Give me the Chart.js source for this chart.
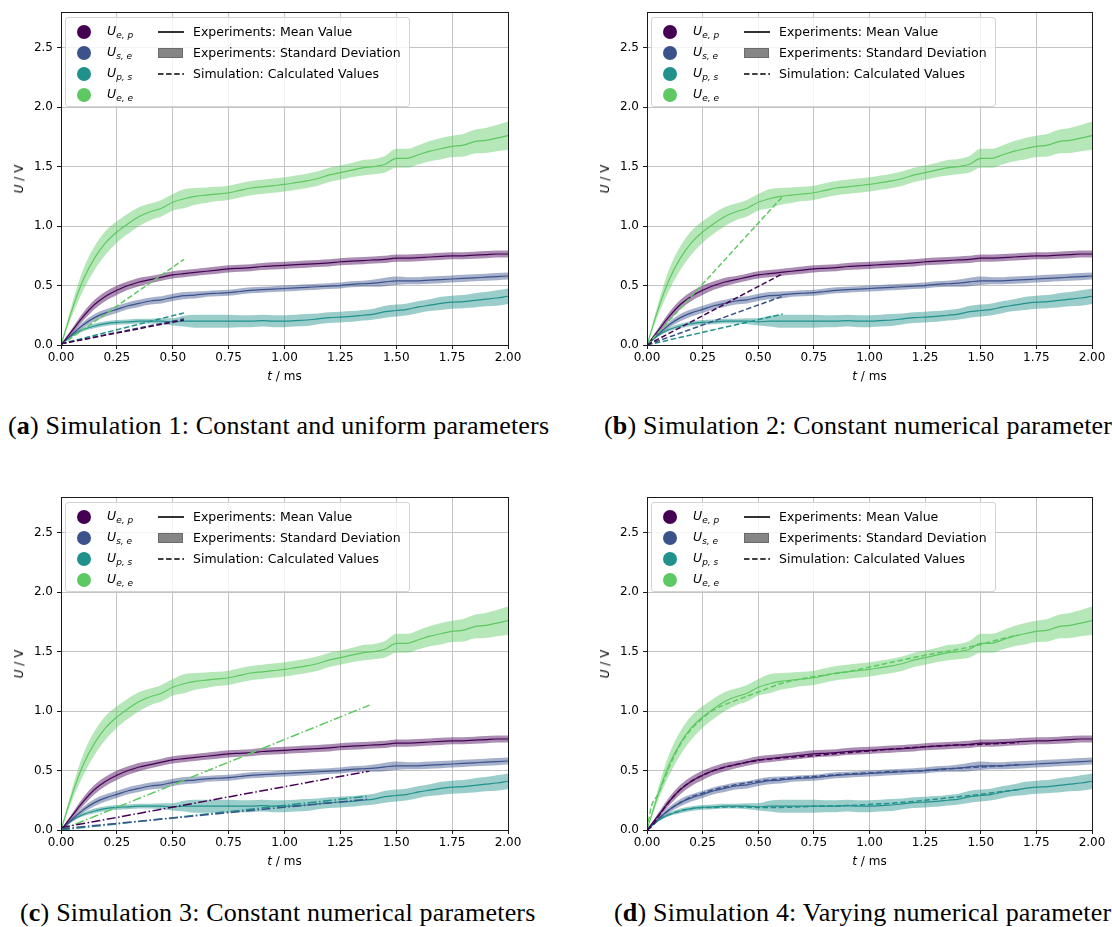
<!DOCTYPE html>
<html lang="en">
<head>
<meta charset="UTF-8">
<title>Simulation vs. Experiments</title>
<script src="https://cdn.jsdelivr.net/npm/chart.js"></script>
<style>
  body { margin: 0; background: #fff; width: 1112px; height: 927px; overflow: hidden; position: relative; font-family: "DejaVu Sans", sans-serif; color: #000; }
  .panel { position: absolute; }
  .panel canvas { position: absolute; left: 0; top: 0; }
  .legend { position: absolute; width: 345px; height: 90px; box-sizing: border-box; background: rgba(255,255,255,0.8); border: 1px solid #d4d4d4; border-radius: 3px; font-size: 12.5px; }
  .legend .dot { position: absolute; width: 14px; height: 14px; border-radius: 50%; }
  .legend .sym { position: absolute; font-style: italic; font-size: 12.5px; line-height: 14px; }
  .legend .sym sub { font-size: 9px; vertical-align: -3px; }
  .legend .txt { position: absolute; line-height: 14px; white-space: nowrap; }
  .legend svg { position: absolute; }
  .ytitle { position: absolute; font-size: 12px; white-space: nowrap; transform: translate(-50%, -50%) rotate(-90deg); }
  .xtitle { position: absolute; font-size: 12px; white-space: nowrap; transform: translate(-50%, -50%); }
  .caption { position: absolute; font-family: "Liberation Serif", serif; font-size: 26px; letter-spacing: 0.2px; white-space: nowrap; line-height: 1; }
</style>
</head>
<body>

<script>
// time axis of the experiments (ms)
const t = [0, 0.05, 0.1, 0.15, 0.2, 0.25, 0.3, 0.35, 0.4, 0.45, 0.5, 0.55, 0.6, 0.65, 0.7, 0.75, 0.8, 0.85, 0.9, 0.95,
           1.0, 1.05, 1.1, 1.15, 1.2, 1.25, 1.3, 1.35, 1.4, 1.45, 1.5, 1.55, 1.6, 1.65, 1.7, 1.75, 1.8, 1.85, 1.9, 1.95, 2.0];

// experiments: mean values (V)
const meanEp = [0, 0.12, 0.24, 0.34, 0.41, 0.46, 0.50, 0.53, 0.55, 0.57, 0.59, 0.60, 0.61, 0.62, 0.63, 0.64, 0.645, 0.65, 0.66, 0.665,
                0.67, 0.675, 0.68, 0.685, 0.69, 0.70, 0.705, 0.71, 0.715, 0.72, 0.73, 0.73, 0.735, 0.74, 0.745, 0.75, 0.75, 0.755, 0.76, 0.765, 0.765];
const meanSe = [0, 0.09, 0.17, 0.23, 0.27, 0.30, 0.33, 0.35, 0.37, 0.38, 0.40, 0.415, 0.42, 0.43, 0.435, 0.44, 0.45, 0.46, 0.465, 0.47,
                0.475, 0.48, 0.485, 0.49, 0.495, 0.50, 0.51, 0.515, 0.52, 0.53, 0.54, 0.54, 0.54, 0.545, 0.55, 0.555, 0.56, 0.565, 0.57, 0.575, 0.58];
const meanPs = [0, 0.08, 0.13, 0.16, 0.18, 0.19, 0.195, 0.2, 0.2, 0.2, 0.195, 0.2, 0.2, 0.2, 0.2, 0.2, 0.2, 0.2, 0.205, 0.2,
                0.2, 0.205, 0.21, 0.22, 0.23, 0.235, 0.24, 0.25, 0.26, 0.28, 0.29, 0.30, 0.32, 0.335, 0.35, 0.36, 0.365, 0.375, 0.385, 0.395, 0.41];
const meanEe = [0, 0.30, 0.55, 0.73, 0.86, 0.95, 1.02, 1.08, 1.12, 1.15, 1.20, 1.23, 1.25, 1.26, 1.27, 1.28, 1.30, 1.32, 1.33, 1.34,
                1.35, 1.365, 1.38, 1.40, 1.43, 1.45, 1.47, 1.49, 1.50, 1.52, 1.57, 1.57, 1.60, 1.63, 1.65, 1.67, 1.68, 1.71, 1.72, 1.74, 1.76];

// experiments: standard deviations (V)
const stdEp = [0, 0.02, 0.035, 0.04, 0.04, 0.04, 0.035, 0.035, 0.03, 0.03, 0.03, 0.03, 0.03, 0.03, 0.03, 0.03, 0.03, 0.03, 0.03, 0.03,
               0.03, 0.03, 0.03, 0.03, 0.03, 0.03, 0.03, 0.03, 0.03, 0.03, 0.03, 0.03, 0.03, 0.03, 0.03, 0.03, 0.03, 0.03, 0.03, 0.03, 0.03];
const stdSe = [0, 0.015, 0.025, 0.03, 0.03, 0.03, 0.03, 0.03, 0.03, 0.03, 0.03, 0.03, 0.03, 0.025, 0.025, 0.025, 0.025, 0.025, 0.025, 0.025,
               0.025, 0.025, 0.025, 0.025, 0.025, 0.025, 0.025, 0.025, 0.03, 0.035, 0.035, 0.03, 0.03, 0.03, 0.03, 0.03, 0.03, 0.03, 0.03, 0.03, 0.03];
const stdPs = [0, 0.01, 0.015, 0.02, 0.02, 0.02, 0.02, 0.02, 0.02, 0.025, 0.03, 0.045, 0.055, 0.055, 0.055, 0.055, 0.05, 0.05, 0.05, 0.05,
               0.05, 0.05, 0.05, 0.045, 0.045, 0.045, 0.045, 0.045, 0.045, 0.05, 0.05, 0.05, 0.05, 0.05, 0.055, 0.055, 0.055, 0.06, 0.06, 0.065, 0.065];
const stdEe = [0, 0.05, 0.09, 0.1, 0.1, 0.09, 0.085, 0.08, 0.07, 0.07, 0.07, 0.08, 0.07, 0.065, 0.06, 0.06, 0.06, 0.06, 0.06, 0.06,
               0.06, 0.06, 0.06, 0.06, 0.06, 0.06, 0.06, 0.065, 0.065, 0.07, 0.08, 0.08, 0.08, 0.085, 0.09, 0.09, 0.095, 0.1, 0.105, 0.11, 0.12];

// simulation 1 (dashed)
const sim1Time = [0, 0.55];
const sim1Ep = [0.01, 0.21];
const sim1Se = [0.01, 0.22];
const sim1Ps = [0.01, 0.27];
const sim1Ee = [0.0, 0.72];

// simulation 2 (dashed)
const sim2Time = [0, 0.61];
const sim2Ep = [0.0, 0.60];
const sim2Se = [0.0, 0.41];
const sim2Ps = [0.0, 0.26];
const sim2Ee = [0.0, 1.25];

// simulation 3 (dash-dot)
const sim3Time = [0, 1.38];
const sim3Ep = [0.02, 0.495];
const sim3Se = [0.01, 0.26];
const sim3Ps = [0.0, 0.285];
const sim3Ee = [0.0, 1.05];

// simulation 4 (dashed)
const sim4Time = [0, 0.02, 0.05, 0.1, 0.15, 0.2, 0.25, 0.3, 0.4, 0.5, 0.6, 0.75, 0.9, 1.0, 1.1, 1.25, 1.4, 1.5, 1.6, 1.67];
const sim4Ep = [0, 0.03, 0.11, 0.24, 0.34, 0.41, 0.46, 0.50, 0.55, 0.585, 0.605, 0.625, 0.65, 0.665, 0.68, 0.70, 0.715, 0.72, 0.73, 0.735];
const sim4Se = [0, 0.03, 0.09, 0.17, 0.23, 0.28, 0.31, 0.34, 0.38, 0.41, 0.43, 0.45, 0.47, 0.48, 0.49, 0.50, 0.52, 0.53, 0.54, 0.55];
const sim4Ps = [0, 0.03, 0.08, 0.13, 0.16, 0.18, 0.19, 0.19, 0.195, 0.19, 0.19, 0.2, 0.205, 0.215, 0.225, 0.25, 0.28, 0.30, 0.325, 0.34];
const sim4Ee = [0, 0.2, 0.3, 0.53, 0.72, 0.85, 0.94, 1.01, 1.09, 1.16, 1.23, 1.29, 1.33, 1.37, 1.41, 1.47, 1.52, 1.56, 1.61, 1.64];

const xTicks = [0, 0.25, 0.5, 0.75, 1.0, 1.25, 1.5, 1.75, 2.0];
const yTicks = [0, 0.5, 1.0, 1.5, 2.0, 2.5];

const seriesNames = ['Ep', 'Se', 'Ps', 'Ee'];
const seriesColors = { Ep: [68, 1, 84], Se: [59, 82, 139], Ps: [33, 145, 140], Ee: [94, 201, 98] };
const symbols = { Ep: 'e, p', Se: 's, e', Ps: 'p, s', Ee: 'e, e' };
const means = { Ep: meanEp, Se: meanSe, Ps: meanPs, Ee: meanEe };
const stds = { Ep: stdEp, Se: stdSe, Ps: stdPs, Ee: stdEe };

const panels = [
  { letter: 'a', title: 'Simulation 1: Constant and uniform parameters', left: 0, top: 0, padRight: 16, capX: 8, capY: 413,
    dash: [5.5, 2.6], simTime: sim1Time, sims: { Ep: sim1Ep, Se: sim1Se, Ps: sim1Ps, Ee: sim1Ee } },
  { letter: 'b', title: 'Simulation 2: Constant numerical parameters', left: 586, top: 0, padRight: 18, capX: 604, capY: 413,
    dash: [5.5, 2.6], simTime: sim2Time, sims: { Ep: sim2Ep, Se: sim2Se, Ps: sim2Ps, Ee: sim2Ee } },
  { letter: 'c', title: 'Simulation 3: Constant numerical parameters', left: 0, top: 485, padRight: 16, capX: 20, capY: 900,
    dash: [9, 2.5, 1.5, 2.5], simTime: sim3Time, sims: { Ep: sim3Ep, Se: sim3Se, Ps: sim3Ps, Ee: sim3Ee } },
  { letter: 'd', title: 'Simulation 4: Varying numerical parameters', left: 586, top: 485, padRight: 18, capX: 614, capY: 900,
    dash: [5.5, 2.6], simTime: sim4Time, sims: { Ep: sim4Ep, Se: sim4Se, Ps: sim4Ps, Ee: sim4Ee } }
];

const AXIS_W = 61, PAD_TOP = 12, CANVAS_H = 390, X_AXIS_H = 45;

function rgba(c, a) { return `rgba(${c[0]},${c[1]},${c[2]},${a})`; }
function pts(xs, ys) { return xs.map((x, i) => ({ x: x, y: ys[i] })); }

// matplotlib-like box around the plot area
const spines = {
  id: 'spines',
  afterDatasetsDraw(chart) {
    const { ctx, chartArea: a } = chart;
    ctx.save();
    ctx.strokeStyle = '#1a1a1a';
    ctx.lineWidth = 1;
    ctx.strokeRect(Math.round(a.left) + 0.5, Math.round(a.top) + 0.5, Math.round(a.right - a.left), Math.round(a.bottom - a.top));
    ctx.restore();
  }
};

function legendHtml() {
  let h = '';
  seriesNames.forEach((s, i) => {
    const y = 14 + i * 21;
    h += `<div class="dot" style="left:11px;top:${y - 7}px;background:${rgba(seriesColors[s], 1)}"></div>`;
    h += `<div class="sym" style="left:41px;top:${y - 8}px">U<sub>${symbols[s]}</sub></div>`;
  });
  h += `<svg style="left:92px;top:12px" width="26" height="4"><line x1="0" y1="2" x2="26" y2="2" stroke="#000" stroke-width="1.6"/></svg>`;
  h += `<div style="position:absolute;left:92px;top:30px;width:25px;height:10px;box-sizing:border-box;background:#858585;border:1px solid #6a6a6a"></div>`;
  h += `<svg style="left:92px;top:54px" width="26" height="4"><line x1="0" y1="2" x2="26" y2="2" stroke="#000" stroke-width="1.6" stroke-dasharray="5.5 2.6"/></svg>`;
  h += `<div class="txt" style="left:127px;top:7px">Experiments: Mean Value</div>`;
  h += `<div class="txt" style="left:127px;top:28px">Experiments: Standard Deviation</div>`;
  h += `<div class="txt" style="left:127px;top:49px">Simulation: Calculated Values</div>`;
  return h;
}

panels.forEach(p => {
  const wrap = document.createElement('div');
  wrap.className = 'panel';
  wrap.style.left = p.left + 'px';
  wrap.style.top = p.top + 'px';
  const canvas = document.createElement('canvas');
  const width = AXIS_W + (p.padRight === 16 ? 447 : 445) + p.padRight;
  canvas.width = width;
  canvas.height = CANVAS_H;
  canvas.style.width = width + 'px';
  canvas.style.height = CANVAS_H + 'px';
  wrap.appendChild(canvas);
  document.body.appendChild(wrap);

  const plotW = width - AXIS_W - p.padRight;
  const legend = document.createElement('div');
  legend.className = 'legend';
  legend.style.left = (AXIS_W + 4) + 'px';
  legend.style.top = (PAD_TOP + 5) + 'px';
  legend.innerHTML = legendHtml();
  wrap.appendChild(legend);

  const yt = document.createElement('div');
  yt.className = 'ytitle';
  yt.style.left = '19px';
  yt.style.top = (PAD_TOP + (CANVAS_H - X_AXIS_H - PAD_TOP) / 2) + 'px';
  yt.innerHTML = '<i>U</i> / V';
  wrap.appendChild(yt);

  const xt = document.createElement('div');
  xt.className = 'xtitle';
  xt.style.left = (AXIS_W + plotW / 2) + 'px';
  xt.style.top = (CANVAS_H - X_AXIS_H + 31) + 'px';
  xt.innerHTML = '<i>t</i> / ms';
  wrap.appendChild(xt);

  const cap = document.createElement('div');
  cap.className = 'caption';
  cap.style.left = p.capX + 'px';
  cap.style.top = p.capY + 'px';
  cap.innerHTML = `(<b>${p.letter}</b>) ${p.title}`;
  document.body.appendChild(cap);

  const datasets = [];
  seriesNames.forEach(s => {
    const c = seriesColors[s];
    const m = means[s], sd = stds[s];
    datasets.push({ data: pts(t, m.map((v, i) => v - sd[i])), borderWidth: 0, pointRadius: 0, fill: false, order: 3,
                    cubicInterpolationMode: 'monotone' });
    datasets.push({ data: pts(t, m.map((v, i) => v + sd[i])), borderWidth: 0, pointRadius: 0, fill: '-1', order: 3,
                    backgroundColor: rgba(c, 0.45), cubicInterpolationMode: 'monotone' });
    datasets.push({ data: pts(t, m), borderColor: rgba(c, 1), borderWidth: 1.2, pointRadius: 0, fill: false, order: 2,
                    cubicInterpolationMode: 'monotone' });
  });
  seriesNames.forEach(s => {
    datasets.push({ data: pts(p.simTime, p.sims[s]), borderColor: rgba(seriesColors[s], 1), borderWidth: 1.5,
                    borderDash: p.dash, pointRadius: 0, fill: false, order: 1, cubicInterpolationMode: 'monotone' });
  });

  const tickFont = { family: 'DejaVu Sans', size: 12 };
  new Chart(canvas, {
    type: 'line',
    data: { datasets: datasets },
    options: {
      responsive: false,
      animation: false,
      devicePixelRatio: 1,
      layout: { autoPadding: false, padding: { top: PAD_TOP, right: p.padRight, left: 0, bottom: 0 } },
      plugins: { legend: { display: false }, tooltip: { enabled: false } },
      scales: {
        x: {
          type: 'linear', min: 0, max: 2,
          afterBuildTicks: ax => { ax.ticks = xTicks.map(v => ({ value: v })); },
          afterFit: ax => { ax.height = X_AXIS_H; },
          ticks: { color: '#000', font: tickFont, padding: 2, maxRotation: 0, callback: v => v.toFixed(2) },
          grid: { color: '#c4c4c4', lineWidth: 1, tickLength: 4, tickColor: '#1a1a1a' },
          border: { color: '#1a1a1a', width: 1 }
        },
        y: {
          type: 'linear', min: 0, max: 2.8,
          afterBuildTicks: ax => { ax.ticks = yTicks.map(v => ({ value: v })); },
          afterFit: ax => { ax.width = AXIS_W; },
          ticks: { color: '#000', font: tickFont, padding: 4, callback: v => v.toFixed(1) },
          grid: { color: '#c4c4c4', lineWidth: 1, tickLength: 4, tickColor: '#1a1a1a' },
          border: { color: '#1a1a1a', width: 1 }
        }
      }
    },
    plugins: [spines]
  });
});
</script>
</body>
</html>
